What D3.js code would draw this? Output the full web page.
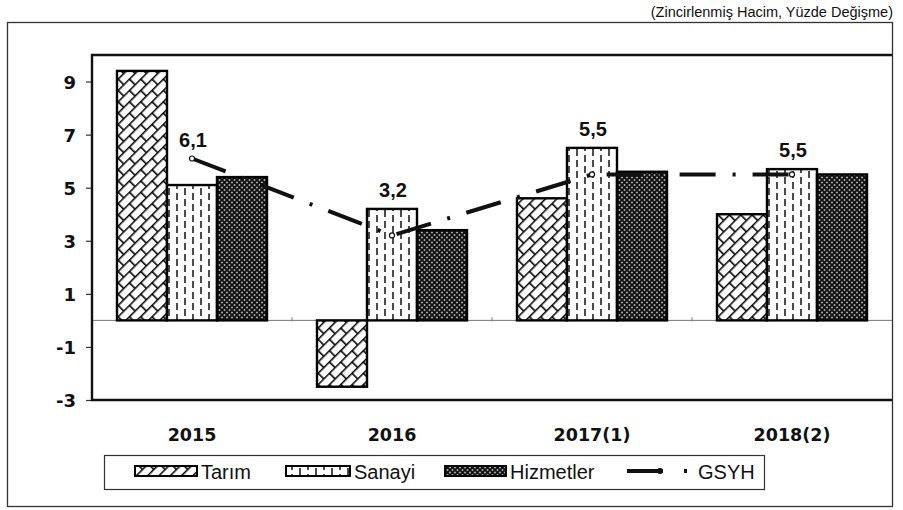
<!DOCTYPE html>
<html>
<head>
<meta charset="utf-8">
<title>Sektörel Büyüme</title>
<style>
  body { margin: 0; background: #fff; }
  svg text { fill: #111; }
  .tick-label { font-family: "DejaVu Sans", sans-serif; font-weight: bold; font-size: 18px; }
  .cat-label { font-family: "DejaVu Sans", sans-serif; font-weight: bold; font-size: 17.5px; }
  .val-label { font-family: "Liberation Sans", Arial, sans-serif; font-weight: bold; font-size: 20px; }
  .legend-text { font-family: "Liberation Sans", Arial, sans-serif; font-size: 20px; }
  .subtitle { font-family: "Liberation Sans", Arial, sans-serif; font-size: 14.5px; }
</style>
</head>
<body>
<div id="chart"></div>
<script src="https://d3js.org/d3.v7.min.js"></script>
<script>
var categories = ["2015", "2016", "2017(1)", "2018(2)"];
var tarim = [9.4, -2.5, 4.6, 4.0];
var sanayi = [5.1, 4.2, 6.5, 5.7];
var hizmetler = [5.4, 3.4, 5.6, 5.5];
var gsyh = [6.1, 3.2, 5.5, 5.5];
var gsyhLabels = ["6,1", "3,2", "5,5", "5,5"];
var yTicks = [-3, -1, 1, 3, 5, 7, 9];
var seriesNames = ["Tarım", "Sanayi", "Hizmetler"];

var width = 903, height = 510;
var plot = { left: 92, right: 892, top: 55, bottom: 400 };

var svg = d3.select("#chart").append("svg")
    .attr("width", width)
    .attr("height", height);

// fill patterns
var defs = svg.append("defs");

var brick = defs.append("pattern")
    .attr("id", "p-tarim")
    .attr("patternUnits", "userSpaceOnUse")
    .attr("width", 16).attr("height", 16)
    .attr("patternTransform", "rotate(-45)");
brick.append("rect").attr("width", 16).attr("height", 16).attr("fill", "#fff");
brick.append("path")
    .attr("d", "M0,0.8H16M0,8.8H16M0.8,0V8.8M8.8,8.8V16")
    .attr("stroke", "#000").attr("stroke-width", 1.6).attr("fill", "none");

var dash = defs.append("pattern")
    .attr("id", "p-sanayi")
    .attr("patternUnits", "userSpaceOnUse")
    .attr("width", 16).attr("height", 22);
dash.append("rect").attr("width", 16).attr("height", 22).attr("fill", "#fff");
dash.append("path")
    .attr("d", "M4,1V8M4,12V19M12,6V13M12,17V22M12,0V2")
    .attr("stroke", "#000").attr("stroke-width", 1.4).attr("fill", "none");

var cross = defs.append("pattern")
    .attr("id", "p-hizmet")
    .attr("patternUnits", "userSpaceOnUse")
    .attr("width", 5).attr("height", 5);
cross.append("rect").attr("width", 5).attr("height", 5).attr("fill", "#aaa");
cross.append("path")
    .attr("d", "M0,0L5,5M5,0L0,5")
    .attr("stroke", "#111").attr("stroke-width", 1.8).attr("fill", "none");

var fills = ["url(#p-tarim)", "url(#p-sanayi)", "url(#p-hizmet)"];

// scales
var x0 = d3.scaleBand()
    .domain(categories)
    .range([plot.left, plot.right])
    .paddingInner(0.25)
    .paddingOuter(0.125);

var x1 = d3.scaleBand()
    .domain(seriesNames)
    .range([0, x0.bandwidth()]);

var y = d3.scaleLinear()
    .domain([-3, 10])
    .range([plot.bottom, plot.top]);

// outer frame
svg.append("rect")
    .attr("x", 7.5).attr("y", 22.5)
    .attr("width", 885).attr("height", 484)
    .attr("fill", "none").attr("stroke", "#333").attr("stroke-width", 1.3);

svg.append("text")
    .attr("class", "subtitle")
    .attr("x", 893).attr("y", 17)
    .attr("text-anchor", "end")
    .text("(Zincirlenmiş Hacim, Yüzde Değişme)");

// zero line
svg.append("line")
    .attr("x1", plot.left).attr("x2", plot.right)
    .attr("y1", y(0)).attr("y2", y(0))
    .attr("stroke", "#777").attr("stroke-width", 1);

// small category ticks on the zero line
svg.append("g").selectAll("line")
    .data(categories.slice(1))
    .join("line")
    .attr("x1", function(d) { return x0(d) - x0.step() * 0.125; })
    .attr("x2", function(d) { return x0(d) - x0.step() * 0.125; })
    .attr("y1", y(0) - 3).attr("y2", y(0) + 1)
    .attr("stroke", "#777");

// y axis
var yAxis = svg.append("g")
    .attr("transform", "translate(" + plot.left + ",0)")
    .call(d3.axisLeft(y).tickValues(yTicks).tickSize(6).tickPadding(10)
      .tickFormat(function(d) { return String(d); }));
yAxis.select(".domain").remove();
yAxis.selectAll(".tick line").attr("stroke", "#333").attr("stroke-width", 1.2);
yAxis.selectAll(".tick text")
    .attr("class", "tick-label")
    .attr("font-family", null).attr("font-size", null)
    .attr("dy", "0.36em");

// bars
var rows = categories.map(function(c, i) {
  return { cat: c, vals: [tarim[i], sanayi[i], hizmetler[i]] };
});

var groups = svg.append("g").selectAll("g")
    .data(rows)
    .join("g")
    .attr("transform", function(d) { return "translate(" + x0(d.cat) + ",0)"; });

groups.selectAll("rect")
    .data(function(d) {
      return d.vals.map(function(v, j) { return { name: seriesNames[j], v: v, j: j }; });
    })
    .join("rect")
    .attr("x", function(d) { return x1(d.name); })
    .attr("width", x1.bandwidth())
    .attr("y", function(d) { return y(Math.max(0, d.v)); })
    .attr("height", function(d) { return Math.abs(y(d.v) - y(0)); })
    .attr("fill", function(d) { return fills[d.j]; })
    .attr("stroke", "#000")
    .attr("stroke-width", 2.4);

// plot frame (top, left, bottom)
svg.append("path")
    .attr("d", "M" + plot.right + "," + plot.top + "H" + plot.left + "V" + plot.bottom + "H" + plot.right)
    .attr("fill", "none").attr("stroke", "#111").attr("stroke-width", 2.4);

// GSYH line
var cx = function(i) { return x0(categories[i]) + x0.bandwidth() / 2; };

svg.append("path")
    .datum(gsyh)
    .attr("d", d3.line().x(function(d, i) { return cx(i); }).y(function(d) { return y(d); }))
    .attr("fill", "none")
    .attr("stroke", "#111")
    .attr("stroke-width", 4)
    .attr("stroke-dasharray", "36,17,3,17");

svg.append("g").selectAll("circle")
    .data(gsyh)
    .join("circle")
    .attr("cx", function(d, i) { return cx(i); })
    .attr("cy", function(d) { return y(d); })
    .attr("r", 2.5)
    .attr("fill", "#fff").attr("stroke", "#111").attr("stroke-width", 1.2);

svg.append("g").selectAll("text")
    .data(gsyh)
    .join("text")
    .attr("class", "val-label")
    .attr("text-anchor", "middle")
    .attr("x", function(d, i) { return cx(i) + 1; })
    .attr("y", function(d, i) { return Math.min(y(d), y(sanayi[i])) - 12; })
    .text(function(d, i) { return gsyhLabels[i]; });

// category labels
svg.append("g").selectAll("text")
    .data(categories)
    .join("text")
    .attr("class", "cat-label")
    .attr("text-anchor", "middle")
    .attr("x", function(d) { return x0(d) + x0.bandwidth() / 2; })
    .attr("y", 441)
    .text(function(d) { return d; });

// legend
var legend = svg.append("g");
legend.append("rect")
    .attr("x", 104.5).attr("y", 455.5)
    .attr("width", 660).attr("height", 34)
    .attr("fill", "none").attr("stroke", "#333").attr("stroke-width", 1.2);

var legendItems = [
  { name: "Tarım", sx: 135, sw: 62 },
  { name: "Sanayi", sx: 286, sw: 64 },
  { name: "Hizmetler", sx: 445, sw: 61 }
];
legendItems.forEach(function(it, j) {
  legend.append("rect")
      .attr("x", it.sx).attr("y", 466)
      .attr("width", it.sw).attr("height", 10)
      .attr("fill", fills[j]).attr("stroke", "#000").attr("stroke-width", 2);
  legend.append("text")
      .attr("class", "legend-text")
      .attr("x", it.sx + it.sw + 4).attr("y", 479)
      .text(it.name);
});
legend.append("line")
    .attr("x1", 627).attr("x2", 690)
    .attr("y1", 471).attr("y2", 471)
    .attr("stroke", "#111").attr("stroke-width", 4)
    .attr("stroke-dasharray", "36,21,3,40");
legend.append("circle")
    .attr("cx", 660).attr("cy", 471).attr("r", 3)
    .attr("fill", "#111");
legend.append("text")
    .attr("class", "legend-text")
    .attr("x", 698).attr("y", 479)
    .text("GSYH");
</script>
</body>
</html>
